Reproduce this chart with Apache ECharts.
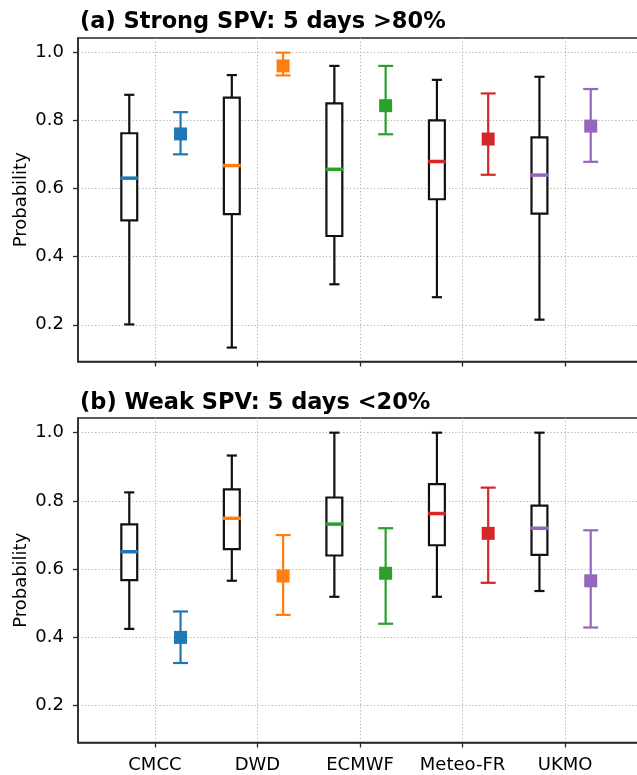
<!DOCTYPE html>
<html>
<head>
<meta charset="utf-8">
<script src="https://cdn.jsdelivr.net/npm/echarts@6/dist/echarts.min.js"></script>
<style>
html,body{margin:0;padding:0;background:#fff;}
#chart{width:637px;height:775px;}
</style>
</head>
<body>
<div id="chart"></div>
<script>
const models = ['CMCC', 'DWD', 'ECMWF', 'Meteo-FR', 'UKMO'];
const modelColors = ['#1f77b4', '#ff7f0e', '#2ca02c', '#d62728', '#9467bd'];
const yTicks = [0.2, 0.4, 0.6, 0.8, 1.0];
const xTicks = [0, 1, 2, 3, 4];
const titles = ['(a) Strong SPV: 5 days >80%', '(b) Weak SPV: 5 days <20%'];

// Panel (a) box statistics
const strongLow    = [0.201, 0.133, 0.319, 0.281, 0.215];
const strongQ1     = [0.507, 0.525, 0.461, 0.569, 0.527];
const strongMedian = [0.631, 0.668, 0.657, 0.680, 0.640];
const strongQ3     = [0.763, 0.868, 0.851, 0.801, 0.751];
const strongHigh   = [0.876, 0.934, 0.961, 0.920, 0.929];
// Panel (a) marker with error bar
const strongMark   = [0.761, 0.961, 0.844, 0.746, 0.784];
const strongErrLo  = [0.701, 0.933, 0.760, 0.641, 0.679];
const strongErrHi  = [0.825, 1.000, 0.961, 0.880, 0.893];

// Panel (b) box statistics
const weakLow    = [0.425, 0.566, 0.519, 0.519, 0.536];
const weakQ1     = [0.568, 0.659, 0.640, 0.670, 0.642];
const weakMedian = [0.651, 0.749, 0.732, 0.763, 0.720];
const weakQ3     = [0.731, 0.834, 0.810, 0.849, 0.786];
const weakHigh   = [0.825, 0.933, 1.000, 1.000, 1.000];
// Panel (b) marker with error bar
const weakMark   = [0.400, 0.580, 0.588, 0.705, 0.566];
const weakErrLo  = [0.325, 0.466, 0.440, 0.560, 0.429];
const weakErrHi  = [0.476, 0.700, 0.720, 0.839, 0.714];

const boxOffset = -0.25, markOffset = 0.25, boxWidth = 0.155;
const font = 'DejaVu Sans';

function boxRows(lo, q1, md, q3, hi) {
  return models.map((m, i) => [i, lo[i], q1[i], md[i], q3[i], hi[i]]);
}
function markRows(mk, elo, ehi) {
  return models.map((m, i) => [i, mk[i], elo[i], ehi[i]]);
}

function boxItem(params, api) {
  const i = api.value(0);
  const x = i + boxOffset;
  const lo = api.coord([x, api.value(1)]);
  const q1 = api.coord([x, api.value(2)]);
  const md = api.coord([x, api.value(3)]);
  const q3 = api.coord([x, api.value(4)]);
  const hi = api.coord([x, api.value(5)]);
  const w = api.size([boxWidth, 0])[0];
  const cx = lo[0];
  const cap = w * 0.32;
  const st = {stroke: '#111', lineWidth: 2.2};
  return {type: 'group', children: [
    {type: 'line', shape: {x1: cx, y1: lo[1], x2: cx, y2: q1[1]}, style: st},
    {type: 'line', shape: {x1: cx, y1: q3[1], x2: cx, y2: hi[1]}, style: st},
    {type: 'line', shape: {x1: cx - cap, y1: lo[1], x2: cx + cap, y2: lo[1]}, style: st},
    {type: 'line', shape: {x1: cx - cap, y1: hi[1], x2: cx + cap, y2: hi[1]}, style: st},
    {type: 'rect', shape: {x: cx - w / 2, y: q3[1], width: w, height: q1[1] - q3[1]},
      style: {fill: '#fff', stroke: '#111', lineWidth: 2.2}},
    {type: 'line', shape: {x1: cx - w / 2 - 1, y1: md[1], x2: cx + w / 2 + 1, y2: md[1]},
      style: {stroke: modelColors[i], lineWidth: 3.5}}
  ]};
}

function markItem(params, api) {
  const i = api.value(0);
  const x = i + markOffset;
  const c = api.coord([x, api.value(1)]);
  const lo = api.coord([x, api.value(2)]);
  const hi = api.coord([x, api.value(3)]);
  const col = modelColors[i];
  const st = {stroke: col, lineWidth: 2.2};
  const cw = 7.5, s = 13;
  return {type: 'group', children: [
    {type: 'line', shape: {x1: c[0], y1: lo[1], x2: c[0], y2: hi[1]}, style: st},
    {type: 'line', shape: {x1: c[0] - cw, y1: lo[1], x2: c[0] + cw, y2: lo[1]}, style: st},
    {type: 'line', shape: {x1: c[0] - cw, y1: hi[1], x2: c[0] + cw, y2: hi[1]}, style: st},
    {type: 'rect', shape: {x: c[0] - s / 2, y: c[1] - s / 2, width: s, height: s}, style: {fill: col}}
  ]};
}

const gridLine = {show: true, lineStyle: {color: '#b0b0b0', type: [1.2, 2.2], width: 1}};
const frame = '#262626';

function xAxis(gi, showLabels) {
  return {
    type: 'value', gridIndex: gi, min: -0.75, max: 4.75,
    axisLine: {show: true, onZero: false, lineStyle: {color: frame, width: 1.5}},
    axisTick: {show: true, customValues: xTicks, length: 5, lineStyle: {color: frame, width: 1.3}},
    axisLabel: {show: showLabels, customValues: xTicks, formatter: v => models[Math.round(v)] || '',
      color: '#000', fontFamily: font, fontSize: 18, margin: 14},
    splitLine: gridLine
  };
}
function yAxis(gi) {
  return {
    type: 'value', gridIndex: gi, min: 0.092, max: 1.043,
    name: 'Probability', nameLocation: 'middle', nameGap: 48, nameRotate: 90, nameMoveOverlap: false,
    nameTextStyle: {fontFamily: font, fontSize: 18, color: '#000'},
    axisLine: {show: true, onZero: false, lineStyle: {color: frame, width: 1.5}},
    axisTick: {show: true, customValues: yTicks, length: 5, lineStyle: {color: frame, width: 1.3}},
    axisLabel: {customValues: yTicks, formatter: v => v.toFixed(1),
      color: '#000', fontFamily: font, fontSize: 18, margin: 14},
    splitLine: gridLine
  };
}

const chart = echarts.init(document.getElementById('chart'), null, {renderer: 'canvas'});
chart.setOption({
  backgroundColor: '#fff',
  animation: false,
  title: [
    {text: titles[0], left: 75, top: 6, textStyle: {fontFamily: font, fontSize: 22.5, fontWeight: 'bold', color: '#000'}},
    {text: titles[1], left: 75, top: 387, textStyle: {fontFamily: font, fontSize: 22.5, fontWeight: 'bold', color: '#000'}}
  ],
  grid: [
    {left: 78, right: -5, top: 38, height: 323.5, outerBoundsMode: 'none', containLabel: false,
      show: true, borderColor: frame, borderWidth: 1.5, backgroundColor: 'transparent'},
    {left: 78, right: -5, top: 418, height: 324.5, outerBoundsMode: 'none', containLabel: false,
      show: true, borderColor: frame, borderWidth: 1.5, backgroundColor: 'transparent'}
  ],
  xAxis: [xAxis(0, false), xAxis(1, true)],
  yAxis: [yAxis(0), yAxis(1)],
  series: [
    {type: 'custom', xAxisIndex: 0, yAxisIndex: 0, renderItem: boxItem,
      data: boxRows(strongLow, strongQ1, strongMedian, strongQ3, strongHigh), silent: true},
    {type: 'custom', xAxisIndex: 0, yAxisIndex: 0, renderItem: markItem,
      data: markRows(strongMark, strongErrLo, strongErrHi), silent: true},
    {type: 'custom', xAxisIndex: 1, yAxisIndex: 1, renderItem: boxItem,
      data: boxRows(weakLow, weakQ1, weakMedian, weakQ3, weakHigh), silent: true},
    {type: 'custom', xAxisIndex: 1, yAxisIndex: 1, renderItem: markItem,
      data: markRows(weakMark, weakErrLo, weakErrHi), silent: true}
  ]
});
</script>
</body>
</html>
